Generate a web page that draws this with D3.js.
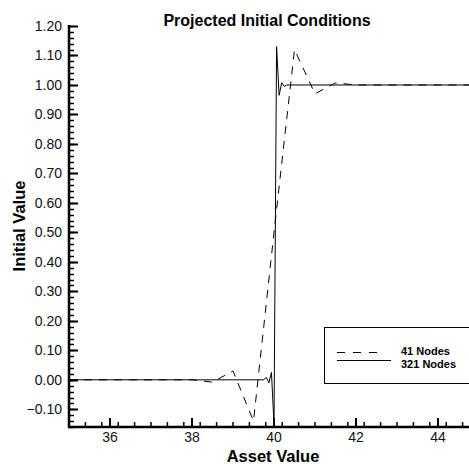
<!DOCTYPE html>
<html>
<head>
<meta charset="utf-8">
<script src="https://cdn.jsdelivr.net/npm/d3@7"></script>
<style>
  body { margin: 0; background: #fff; }
  svg { display: block; font-family: "Liberation Sans", Arial, sans-serif; }
</style>
</head>
<body>
<svg id="canvas" width="469" height="464"></svg>
<script>
const svg = d3.select("#canvas");
const width = 469;
const height = 464;

// 41 node grid (visible part)
const coarseX = [35, 35.5, 36, 36.5, 37, 37.5, 38, 38.5, 39, 39.5, 40,
                 40.5, 41, 41.5, 42, 42.5, 43, 43.5, 44, 44.5, 45];
const coarseY = [0, 0, 0, 0, 0, 0, 0, -0.008, 0.03, -0.14, 0.5,
                 1.12, 0.97, 1.007, 1.0, 1.0, 1.0, 1.0, 1.0, 1.0, 1.0];

// 321 node grid, only the points where the curve changes
const fineX = [35, 39.75, 39.8125, 39.875, 39.9375, 40, 40.0625,
               40.125, 40.1875, 40.25, 40.3125, 45];
const fineY = [0, 0, 0.008, -0.01, 0.025, -0.15, 1.13,
               0.965, 1.008, 0.995, 1.0, 1.0];

const yTicks = [-0.10, 0.00, 0.10, 0.20, 0.30, 0.40, 0.50, 0.60,
                0.70, 0.80, 0.90, 1.00, 1.10, 1.20];
const xTicks = [36, 38, 40, 42, 44];

const seriesNames = ["41 Nodes", "321 Nodes"];

const x = d3.scaleLinear().domain([35, 45]).range([69, 479]);
const y = d3.scaleLinear().domain([-0.16, 1.2]).range([427, 26]);

const coarse = coarseX.map((d, i) => [d, coarseY[i]]);
const fine = fineX.map((d, i) => [d, fineY[i]]);

svg.append("defs").append("clipPath")
    .attr("id", "plotclip")
    .append("rect")
    .attr("x", 69)
    .attr("y", 20)
    .attr("width", width - 69)
    .attr("height", 407);

const line = d3.line()
    .x(d => x(d[0]))
    .y(d => y(d[1]));

const plot = svg.append("g").attr("clip-path", "url(#plotclip)");

plot.append("path")
    .datum(coarse)
    .attr("d", line)
    .attr("fill", "none")
    .attr("stroke", "#000")
    .attr("stroke-width", 1)
    .attr("stroke-dasharray", "8,7");

plot.append("path")
    .datum(fine)
    .attr("d", line)
    .attr("fill", "none")
    .attr("stroke", "#000")
    .attr("stroke-width", 1);

// y axis, ticks pointing inward
const yMinor = d3.range(-16, 121, 2).map(v => v / 100);
const yAxis = svg.append("g");
yAxis.selectAll("line.minor")
    .data(yMinor)
    .enter()
    .append("line")
    .attr("x1", 69)
    .attr("x2", 74)
    .attr("y1", d => Math.round(y(d)) + 0.5)
    .attr("y2", d => Math.round(y(d)) + 0.5)
    .attr("stroke", "#000")
    .attr("stroke-width", 1.5);

yAxis.selectAll("line.major")
    .data(yTicks)
    .enter()
    .append("line")
    .attr("x1", 69)
    .attr("x2", 78)
    .attr("y1", d => Math.round(y(d)) + 0.5)
    .attr("y2", d => Math.round(y(d)) + 0.5)
    .attr("stroke", "#000")
    .attr("stroke-width", 2);

yAxis.selectAll("text")
    .data(yTicks)
    .enter()
    .append("text")
    .attr("x", 62)
    .attr("y", d => y(d) + 5)
    .attr("text-anchor", "end")
    .attr("font-size", "14px")
    .attr("fill", "#111")
    .text(d => d3.format(".2f")(d));

yAxis.append("line")
    .attr("x1", 69).attr("x2", 69)
    .attr("y1", 25).attr("y2", 428)
    .attr("stroke", "#000")
    .attr("stroke-width", 2.5);

// x axis
const xMinor = d3.range(35, 46, 0.4);
const xAxis = svg.append("g");
xAxis.selectAll("line.minor")
    .data(xMinor)
    .enter()
    .append("line")
    .attr("x1", d => x(d))
    .attr("x2", d => x(d))
    .attr("y1", 427)
    .attr("y2", 422)
    .attr("stroke", "#000")
    .attr("stroke-width", 1.5);

xAxis.selectAll("line.major")
    .data(xTicks)
    .enter()
    .append("line")
    .attr("x1", d => x(d))
    .attr("x2", d => x(d))
    .attr("y1", 427)
    .attr("y2", 418)
    .attr("stroke", "#000")
    .attr("stroke-width", 2);

xAxis.selectAll("text")
    .data(xTicks)
    .enter()
    .append("text")
    .attr("x", d => x(d))
    .attr("y", 442)
    .attr("text-anchor", "middle")
    .attr("font-size", "14px")
    .attr("fill", "#111")
    .text(d => d);

xAxis.append("line")
    .attr("x1", 68).attr("x2", width)
    .attr("y1", 427).attr("y2", 427)
    .attr("stroke", "#000")
    .attr("stroke-width", 2.5);

// titles
svg.append("text")
    .attr("x", 267)
    .attr("y", 26)
    .attr("text-anchor", "middle")
    .attr("font-size", "16px")
    .attr("font-weight", "bold")
    .text("Projected Initial Conditions");

svg.append("text")
    .attr("x", 273)
    .attr("y", 462)
    .attr("text-anchor", "middle")
    .attr("font-size", "16.5px")
    .attr("font-weight", "bold")
    .text("Asset Value");

svg.append("text")
    .attr("transform", "translate(25,226) rotate(-90)")
    .attr("text-anchor", "middle")
    .attr("font-size", "16.5px")
    .attr("font-weight", "bold")
    .text("Initial Value");

// legend
const legend = svg.append("g");
legend.append("rect")
    .attr("x", 324.5)
    .attr("y", 327.5)
    .attr("width", 160)
    .attr("height", 56)
    .attr("fill", "#fff")
    .attr("stroke", "#000")
    .attr("stroke-width", 1);

legend.selectAll("line")
    .data(seriesNames)
    .enter()
    .append("line")
    .attr("x1", 337)
    .attr("x2", (d, i) => i === 0 ? 382 : 391)
    .attr("y1", (d, i) => 352.5 + i * 8)
    .attr("y2", (d, i) => 352.5 + i * 8)
    .attr("stroke", "#000")
    .attr("stroke-width", 1)
    .attr("stroke-dasharray", (d, i) => i === 0 ? "8,8" : null);

legend.selectAll("text")
    .data(seriesNames)
    .enter()
    .append("text")
    .attr("x", 401)
    .attr("y", (d, i) => 354.5 + i * 13)
    .attr("font-size", "11px")
    .attr("font-weight", "bold")
    .text(d => d);
</script>
</body>
</html>
